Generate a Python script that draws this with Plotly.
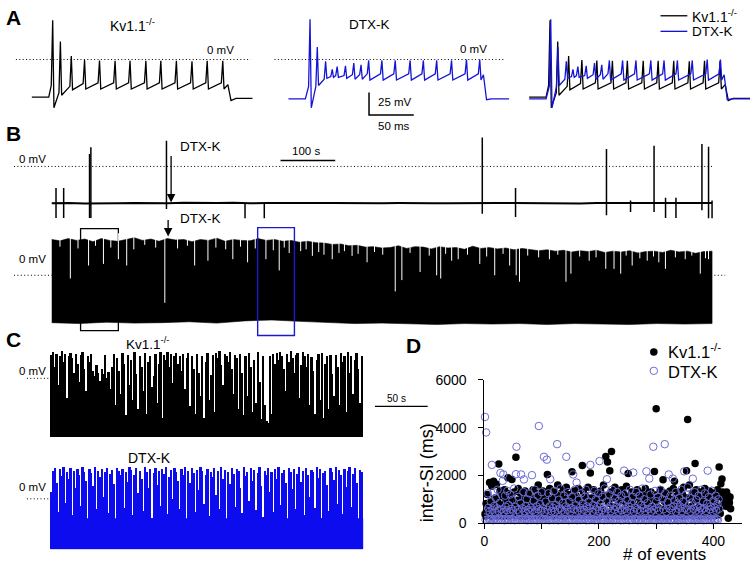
import plotly.graph_objects as go

W, H = 750, 570
FONT = "Arial, 'Liberation Sans', Helvetica, sans-serif"
BLUE = "#1414d8"
CBLUE = "#0c0cee"
DBLUE = "#6b6bd8"

# ---------------- DATA ----------------
# Panel A: current-evoked firing (time ms, voltage mV)
kv_rest, kv_step, kv_off, kv_dip, kv_after = -42.0, [18.9, 219.0], -28.0, -46.0, -43.5
kv_spike_t = [23.3, 31.9, 44.1, 58.9, 75.6, 93.0, 109.7, 127.4, 144.1, 161.5, 178.9, 195.9, 213.3]
kv_spike_peak = [44.0, 20.0, 4.0, -0.5, -1.0, -1.5, -1.5, -1.5, -1.5, -1.5, -2.0, -1.5, -1.5]
kv_spike_thr = [-29.0, -37.0, -30.0, -27.0, -26.0, -26.0, -26.0, -26.0, -26.0, -26.0, -26.0, -26.0, -26.0]
kv_spike_ahp = [-54.0, -40.0, -34.0, -33.0, -33.0, -33.0, -33.0, -33.0, -33.0, -33.0, -33.0, -33.0, -33.0]

dtx_rest, dtx_step, dtx_off, dtx_dip, dtx_after = -44.0, [18.9, 217.8], -17.0, -45.0, -44.0
dtx_spike_t = [24.1, 32.2, 41.5, 48.9, 54.4, 63.7, 73.0, 81.1, 89.6, 104.4, 119.3, 135.9, 150.7, 165.6, 182.2, 198.9, 213.7]
dtx_spike_peak = [45.0, 14.0, -2.0, -11.0, -8.0, -7.0, -4.0, -6.0, -1.0, -1.0, -1.0, -1.0, -1.0, -1.0, -1.0, 0.0, 0.0]
dtx_spike_thr = [-30.0, -30.0, -22.0, -19.0, -18.0, -18.0, -17.0, -17.0, -16.0, -16.0, -16.0, -16.0, -16.0, -16.0, -16.0, -16.0, -16.0]
dtx_spike_ahp = [-54.0, -29.0, -21.0, -20.0, -20.0, -21.0, -22.0, -22.0, -23.0, -23.0, -23.0, -23.0, -23.0, -23.0, -23.0, -23.0, -23.0]
a_t_end = 246.7

# Panel B (top): sparse recording (time s, mV)
b1_len = 1207.0
b1_baseline = [-41.2, -40.8, -41.5, -41.0, -41.3, -40.9, -41.4, -41.1, -40.7, -41.2, -41.0, -40.6, -41.3, -40.9,
               -41.1, -40.5, -41.0, -40.8, -41.2, -40.9, -41.3, -41.0, -40.7, -41.2, -41.1, -40.8, -41.3, -41.0,
               -40.9, -41.2, -40.8, -41.1, -41.4, -40.9, -41.0, -41.2, -40.7, -41.1, -41.3, -40.9, -41.0]
b1_event_t = [7.8, 21.8, 69.1, 71.5, 209.7, 353.3, 388.5, 787.0, 847.8, 1014.0, 1058.0, 1101.0, 1122.0, 1141.0, 1188.5, 1200.6, 1207.0]
b1_event_top = [-24.0, -24.0, 14.0, 21.4, 28.6, -41.0, -41.0, 32.3, -24.0, 19.6, -38.0, 23.0, -35.0, -35.0, 25.0, 22.0, -38.0]
b1_event_bot = [-57.6, -57.6, -57.6, -57.6, -47.5, -58.0, -58.0, -53.0, -56.5, -54.7, -51.0, -51.0, -57.6, -57.6, -49.0, -58.0, -58.0]

# Panel B (bottom): dense recording envelope (time s, mV)
b2_len = 1207.0
b2_top = [40, 38.5, 41, 39, 40.5, 37.5, 41, 39, 38, 40, 42, 39, 40.5, 38, 41, 39.5, 40, 37.5, 40, 39, 41.5, 38, 40,
          39, 38.5, 41, 39, 40, 38,
          39, 37, 38, 36.5, 36, 34.5, 35, 33, 33.5, 31.5, 32, 30.5,
          31, 33, 30, 32, 31.5, 29.5, 32, 30.5, 31, 29, 32.5, 30, 31, 29.5, 30.5, 28.5, 30,
          29, 27.5, 28.5, 27, 28, 26, 27.5, 26.5, 28, 25.5, 27, 26, 27.5, 25, 26.5,
          27, 25.5, 28, 26, 27, 24.5, 26.5, 27]
b2_bottom = [-53, -54, -52.5, -53.5, -53, -52, -53.5, -51, -50, -51.5, -53, -54, -53.5, -54, -55, -54, -54.5, -54,
             -55, -54, -54.5, -55, -54, -54.5, -54]
b2_gap_t = [34.0, 67.3, 94.5, 121.8, 137.0, 206.7, 261.2, 285.5, 331.0, 358.0, 391.5, 415.8, 434.0, 476.4, 497.6,
            512.7, 549.0, 576.4, 627.9, 640.0, 673.3, 703.6, 711.0, 731.0, 743.0, 782.4, 809.7, 837.0, 849.0, 855.0,
            909.7, 940.0, 949.0, 982.4, 1012.7, 1027.8, 1040.0, 1061.0, 1088.5, 1109.7, 1121.8, 1158.0, 1185.5, 1200.5]
b2_gap_depth = [-3.6, 10.9, 12.7, 18.0, 10.9, -30.8, 10.9, 16.3, 18.0, 14.5, 18.0, 5.4, 25.0, 21.7, 23.0, 18.0, 21.7,
                14.5, -18.0, -5.4, 3.6, 0.0, -3.6, 16.3, 18.0, 12.7, 0.0, 10.9, 0.0, -7.2, 18.0, -7.2, 1.8, 16.3,
                7.2, 7.2, 1.8, 10.9, 16.3, 14.5, 7.2, 18.0, 1.8, 18.0]
b2_notch_t = [15, 48, 80, 108, 150, 170, 190, 230, 248, 300, 318, 345, 372, 405, 425, 455, 465, 488, 525, 535, 560,
              590, 605, 655, 690, 720, 760, 795, 825, 870, 890, 925, 965, 995, 1050, 1075, 1100, 1140, 1170, 1195]
b2_notch_depth = [32, 30, 33, 31, 29, 34, 31, 30, 33, 31, 29, 32, 30, 28, 31, 27, 29, 26, 25, 27, 24, 26, 23, 25,
                  22, 24, 23, 21, 24, 22, 20, 23, 21, 20, 22, 19, 21, 20, 22, 19]
b2_box_kv = [52.7, 121.8]
b2_box_dtx = [376.4, 443.6]

# Panel C: per-bin maximum voltage (mV), 296 s split into 180 bins
c_len = 296.0
c_kv_max = [26, 29, 12, 27, -8, 24, 30, 18, 27, -22, 25, 28,
            22, 6, 27, 15, -5, 26, 29, 10, -15, 24, 18, 27,
            8, 2, 14, 6, -3, 10, 4, 26, 0, 7, -12, 12,
            27, -30, 22, 8, -18, 28, 15, -42, 26, -8, 20, -25, 29, 4, -35, 24, 12, -15, 28, -40,
            18, 25, -10, 2, 27, -28, 16, 29, -45,
            26, 20, 29, 12, 27, -6, 24, 28, 16, 25, 8, 27, -12, 22, 28,
            -32, 24, 10, -40, 27, 6, -20, 25, -45, 18, 28, -25, 3, 26, -38,
            28, 22, 30, 14, -8, 27, 25, 18, 29, 10, -18, 26,
            22, -35, 27, 5, -42, 24, -20, 28, 12, -38, 20, -28, 29, -5, -46, 25, -30,
            -48, -50, 24, -40, 27, 15,
            28, 20, 29, 24, 10, -15, 27, 18, 30, 22, 6, 26, 28, -22, 14, 29, 24, 12, 27,
            -30, 23, 8, -40, 20, 27, -25, 28, -45, 15, 24, -35, 26, 4, -20,
            26, 12, -30, 28, 18, 24, -38, 29, 6, 25, -18, 20, 28, 10, -28, 25]
c_kv_floor = -66.0
c_dtx_max = [8, 31, 34, 18, -15, 33, 25, 35, -5, 30, 22, 34, -18, 31, 12, 33, 27, -8, 35, 30,
             20, -25, 33, 29, 14, 35, -12, 31, 24, 33, 2, 30, 34, -16, 28, 32, 16, -30, 34, 31,
             26, 33, -10, 30, 19, 35, 32, -18, 27, 34, 6, 31, 22, -14, 35, 30, 12, 33, -22, 29,
             34, 15, 31, -8, 33, 28, 35, -17, 24, 32, 0, 34, 30, 20, -12, 33, 26, 35, -28, 31,
             18, 34, 29, -15, 32, 10, 35, 31, -6, 27, 33, -19, 30, 24, 34, 4, 31, -11, 35, 22,
             32, -24, 30, 16, 34, 28, -9, 33, 31, 12, -16, 35, 25, 30, -3, 34, 20, 32, -13, 29,
             35, 14, -20, 31, 27, 34, 8, 30, -15, 33, 22, 35, -7, 29, 32, 17, -26, 34, 30, 11,
             33, -12, 28, 35, 19, 31, -18, 34, 26, 2, 32, 30, -10, 35, 23, 33, -22, 29, 31, 15,
             -14, 34, 30, 21, 35, -6, 32, 27, -17, 33, 13, 31, 35, -9, 28, 34, 18, -24, 32, 30]
c_dtx_floor = -56.0
c_dtx_solid = -22.0

# Panel D: inter-spike intervals (ms) per event
kv_isi = [380, 300, 820, 450, 1200, 350, 610, 330, 1700, 420, 900, 290, 1550, 380, 720, 1760, 340, 1050, 310, 480,
          1630, 360, 920, 300, 2480, 410, 1350, 330, 650, 380, 1150, 290, 780, 440, 1400, 350, 980, 310, 560, 1250,
          1900, 370, 620, 300, 850, 420, 1100, 1830, 340, 530, 390, 1300, 310, 700, 2760, 380, 960, 330, 1450, 400,
          560, 300, 1250, 420, 880, 350, 1050, 310, 680, 380, 1350, 290, 940, 410, 520, 340, 1200, 360, 760, 320,
          1080, 390, 620, 300, 1400, 350, 840, 420, 1000, 310, 560, 380, 1250, 1600, 330, 720, 400, 1100, 290, 870,
          360, 1350, 420, 640, 310, 980, 380, 1200, 300, 2040, 450, 760, 340, 1450, 390, 560, 320, 1050, 410, 880,
          300, 1300, 370, 690, 420, 1100, 330, 1600, 390, 540, 310, 950, 440, 1250, 360, 780, 300, 1400, 400, 620,
          1000, 350, 1500, 310, 820, 420, 1200, 380, 560, 330, 1050, 400, 2150, 300, 700, 1350, 360, 900, 420, 1150,
          330, 620, 390, 1450, 310, 860, 410, 1000, 350, 540, 2420, 300, 1300, 380, 720, 440, 1150, 320, 950, 400,
          1500, 360, 680, 310, 2100, 430, 1050, 340, 820, 380, 1400, 300, 560, 410, 1250, 350, 900, 320, 1100, 390,
          640, 300, 1350, 420, 980, 360, 560, 1600, 330, 1150, 410, 2790, 1100, 380, 2560, 300, 840, 440, 2190, 360,
          1300, 3000, 420, 700, 310, 1050, 380, 1500, 340, 600, 400, 1250, 300, 880, 450, 1100, 330, 540, 380, 1400,
          360, 950, 410, 1200, 300, 650, 390, 1550, 340, 800, 2080, 420, 1050, 310, 600, 380, 1300, 350, 900, 430,
          1150, 300, 700, 400, 1100, 340, 1400, 380, 560, 310, 1100, 440, 850, 360, 1250, 320, 620, 410, 1000, 350,
          1450, 390, 760, 300, 1150, 420, 540, 360, 980, 330, 1300, 400, 650, 310, 1100, 380, 2160, 340, 880, 4790,
          420, 1200, 300, 640, 380, 1050, 350, 1400, 410, 560, 330, 1820, 390, 920, 300, 1250, 440, 700, 360, 1100,
          320, 850, 400, 1350, 310, 600, 380, 1000, 340, 1450, 420, 1750, 300, 760, 390, 1150, 350, 540, 410, 1300,
          330, 920, 390, 640, 300, 1200, 420, 1500, 360, 800, 310, 1050, 2200, 380, 4345, 560, 340, 1600, 400, 1100,
          350, 700, 420, 1250, 300, 950, 380, 2500, 330, 1400, 410, 620, 360, 1150, 300, 880, 440, 1300, 340, 540,
          1050, 390, 760, 310, 1450, 420, 600, 350, 1200, 380, 900, 300, 1350, 440, 650, 330, 1100, 400, 800, 360,
          1250, 310, 950, 420, 700, 380, 1400, 340, 1150, 2350, 600, 400, 1650, 1100, 1850, 1300, 800, 1000, 1200, 900,
          1050, 700, 1300, 950, 1150, 200, 1000, 850, 1100, 600]
dtx_isi = [4450, 130, 3800, 520, 150, 1250, 640, 170, 480, 140, 900, 160, 2440, 560, 120, 1300, 720, 180, 450, 1050,
           150, 620, 1400, 130, 500, 170, 850, 2100, 140, 580, 160, 1770, 2040, 470, 120, 1150, 690, 180, 540, 1350,
           140, 760, 160, 450, 1200, 130, 600, 170, 980, 520, 150, 1450, 120, 680, 2050, 3200, 140, 560, 1100, 180,
           470, 130, 830, 2040, 160, 620, 150, 1300, 1830, 500, 140, 720, 170, 1000, 120, 560, 160, 1250, 480, 150,
           650, 130, 2010, 540, 170, 940, 140, 1400, 480, 160, 700, 120, 1150, 580, 4070, 150, 800, 180, 520, 1300,
           140, 620, 160, 2780, 470, 130, 900, 170, 2660, 560, 150, 1250, 120, 700, 1840, 140, 500, 1050, 160, 640,
           130, 1350, 480, 170, 760, 150, 3310, 560, 120, 980, 160, 620, 1450, 140, 520, 180, 850, 130, 1150, 470,
           160, 700, 2780, 140, 560, 1300, 120, 900, 170, 480, 640, 150, 1100, 130, 2040, 580, 160, 1400, 140, 750,
           1700, 120, 520, 170, 980, 150, 640, 130, 1250, 480, 160, 820, 140, 560, 1100, 180, 1400, 120, 700, 500,
           150, 900, 130, 620, 2440, 170, 1150, 140, 480, 760, 160, 1350, 120, 560, 1000, 150, 680, 130, 1250, 500,
           2600, 170, 820, 140, 540, 1100, 160, 640, 120, 1450, 480, 150, 900, 1840, 130, 600, 170, 1200, 140, 720,
           500, 160, 1400, 120, 860, 150, 560, 1050, 130, 680, 170, 1300, 140, 480, 940, 160, 620, 120, 1150, 540,
           150, 780, 130, 2200, 600, 170, 1250, 140, 500, 960, 160, 700, 120, 1400, 560, 150, 840, 130, 1100, 2120,
           480, 170, 650, 140, 1300, 160, 560, 120, 900, 150, 1150, 520, 130, 760, 170, 1450, 140, 620, 1000, 160,
           500, 120, 2170, 150, 840, 130, 600, 1870, 170, 1200, 480, 140, 700, 160, 3200, 560, 120, 1350, 150, 920,
           640, 130, 1100, 170, 520, 140, 1400, 160, 760, 120, 1000, 150, 580, 130, 3310, 1250, 170, 480, 140, 880,
           160, 2040, 620, 120, 1150, 150, 540, 130, 1870, 700, 170, 960, 140, 1300, 480, 160, 820, 120, 600, 1050,
           150, 700, 130, 1400, 500, 170, 900, 140, 2170, 620, 160, 1200, 120, 560, 1500, 150, 760, 130, 1050, 480,
           170, 860, 140, 1860, 600, 160, 1300, 120, 520, 980, 150, 700, 130, 1150, 480, 170, 640, 140, 1400, 560,
           160, 900, 120, 620, 1250, 150, 500, 130, 820, 2200, 170, 1100, 140, 580, 700, 160, 1360, 120, 480, 940,
           150, 650, 130, 1150, 520, 170, 800, 140, 1000, 600]
d_xticks = [0, 200, 400]
d_xminor = [100, 300]
d_yticks = [0, 2000, 4000, 6000]

# ---------------- FIGURE ----------------
fig = go.Figure()

# axis boxes in pixels: (x0, x1), (ytop, ybottom), x range, y range
AX = {
    1: ((8, 250), (5, 115), (-22.2, 246.7), (-67.4, 52.2)),
    2: ((266, 508), (5, 115), (-22.2, 246.7), (-67.4, 52.2)),
    3: ((508, 750), (5, 115), (-22.2, 246.7), (-67.4, 52.2)),
    4: ((5, 740), (125, 222), (-78.18, 1258.18), (-64.1, 41.3)),
    5: ((5, 740), (222, 340), (-78.18, 1258.18), (-70.65, 57.6)),
    6: ((5, 432), (340, 452), (-39.6, 363.2), (-77.2, 44.6)),
    7: ((5, 432), (458, 566), (-39.6, 363.2), (-66.3, 51.1)),
    8: ((483, 742), (382.7, 530), (0, 450), (0, 6000)),
}
lay = {}
for k, (xd, yd, xr, yr) in AX.items():
    xn = "xaxis" if k == 1 else f"xaxis{k}"
    yn = "yaxis" if k == 1 else f"yaxis{k}"
    lay[xn] = dict(domain=[xd[0] / W, xd[1] / W], range=list(xr), visible=False,
                   anchor="y" if k == 1 else f"y{k}", fixedrange=True)
    lay[yn] = dict(domain=[1 - yd[1] / H, 1 - yd[0] / H], range=list(yr), visible=False,
                   anchor="x" if k == 1 else f"x{k}", fixedrange=True)


def ax(k):
    return ("x", "y") if k == 1 else (f"x{k}", f"y{k}")


def line(k, xs, ys, color="black", width=1.0, dash=None, fill=None, fillcolor=None):
    xa, ya = ax(k)
    fig.add_trace(go.Scatter(x=xs, y=ys, xaxis=xa, yaxis=ya, mode="lines", hoverinfo="skip",
                             line=dict(color=color, width=width, dash=dash),
                             fill=fill, fillcolor=fillcolor))


def segs(xs, lo, hi):
    sx, sy = [], []
    for x, a, b in zip(xs, lo, hi):
        sx += [x, x, None]
        sy += [a, b, None]
    return sx, sy


def train(rest, step, thr, t, peak, ahp, off_level, dip, after):
    xs, ys = [0.0, step[0]], [rest, rest]
    for ti, th, pk, ah in zip(t, thr, peak, ahp):
        xs += [ti - 1.6, ti, ti + 1.4]
        ys += [th, pk, ah]
    xs += [step[1], step[1] + 3.5, step[1] + 9, a_t_end]
    ys += [off_level, dip, after, after]
    return xs, ys


kv_x, kv_y = train(kv_rest, kv_step, kv_spike_thr, kv_spike_t, kv_spike_peak, kv_spike_ahp, kv_off, kv_dip, kv_after)
dtx_x, dtx_y = train(dtx_rest, dtx_step, dtx_spike_thr, dtx_spike_t, dtx_spike_peak, dtx_spike_ahp, dtx_off, dtx_dip, dtx_after)

DOT = "1px,2.4px"
# A
line(1, [-17.8, 244.4], [0, 0], width=1, dash=DOT)
line(1, kv_x, kv_y, width=1.3)
line(2, [-15.6, 240.0], [0, 0], width=1, dash=DOT)
line(2, dtx_x, dtx_y, color=BLUE, width=1.3)
line(2, [90, 90, 140], [-37, -62, -62], width=1.5)
line(3, kv_x, kv_y, width=1.3)
line(3, dtx_x, dtx_y, color=BLUE, width=1.3)

# B top
line(4, [-69, b1_len], [0, 0], width=1, dash=DOT)
nb = len(b1_baseline)
line(4, [b1_len * i / (nb - 1) for i in range(nb)], b1_baseline, width=2.0)
ex, ey = segs(b1_event_t, b1_event_bot, b1_event_top)
line(4, ex, ey, width=1.5)
line(4, [418.2, 518.2], [6.5, 6.5], width=1.5)

# B bottom
line(5, [-69, 1231], [0, 0], width=1, dash=DOT)
nt, nbt = len(b2_top), len(b2_bottom)
tx = [b2_len * i / (nt - 1) for i in range(nt)]
bx = [b2_len * i / (nbt - 1) for i in range(nbt)]
line(5, tx + bx[::-1], b2_top + b2_bottom[::-1], width=0.6, fill="toself", fillcolor="black")
gx, gy = segs(b2_gap_t, [47] * len(b2_gap_t), b2_gap_depth)
line(5, gx, gy, color="white", width=1)
nx, ny = segs(b2_notch_t, [47] * len(b2_notch_t), b2_notch_depth)
line(5, nx, ny, color="white", width=1)

# C (Kv1.1-/-)
c_bin = c_len / len(c_kv_max)
cx = [(i + 0.5) * c_bin for i in range(len(c_kv_max))]
line(6, [-22.6, 0], [0, 0], width=1, dash=DOT)
fig.add_trace(go.Bar(x=cx, y=[v - c_kv_floor for v in c_kv_max], base=c_kv_floor, width=c_bin,
                     xaxis="x6", yaxis="y6", marker=dict(color="black", line=dict(width=0)), hoverinfo="skip"))
# C (DTX-K)
cdx = [(i + 0.5) * c_bin for i in range(len(c_dtx_max))]
line(7, [-22.6, 0], [0, 0], width=1, dash=DOT)
fig.add_trace(go.Bar(x=cdx, y=[v - c_dtx_floor for v in c_dtx_max], base=c_dtx_floor, width=c_bin,
                     xaxis="x7", yaxis="y7", marker=dict(color=CBLUE, line=dict(width=0)), hoverinfo="skip"))
line(7, [0, c_len, c_len, 0], [c_dtx_floor, c_dtx_floor, c_dtx_solid, c_dtx_solid], color=CBLUE, width=0.5,
     fill="toself", fillcolor=CBLUE)

# D
fig.add_trace(go.Scatter(x=list(range(1, len(kv_isi) + 1)), y=kv_isi, xaxis="x8", yaxis="y8", mode="markers",
                         marker=dict(size=7.5, color="black", line=dict(width=0)), cliponaxis=False, hoverinfo="skip"))
fig.add_trace(go.Scatter(x=list(range(1, len(dtx_isi) + 1)), y=dtx_isi, xaxis="x8", yaxis="y8", mode="markers",
                         marker=dict(size=7.5, symbol="circle-open", color=DBLUE, line=dict(width=1, color=DBLUE)),
                         cliponaxis=False, hoverinfo="skip"))

lay["xaxis8"].update(visible=True, showline=True, linecolor="black", linewidth=1, ticks="outside", ticklen=5,
                     tickcolor="black", tickvals=d_xticks, showgrid=False, zeroline=False,
                     minor=dict(tickvals=d_xminor, ticks="outside", ticklen=5, tickcolor="black", showgrid=False),
                     tickfont=dict(size=14, family=FONT, color="black"))
lay["yaxis8"].update(visible=True, showline=True, linecolor="black", linewidth=1, ticks="outside", ticklen=5,
                     tickcolor="black", tickvals=d_yticks, showgrid=False, zeroline=False,
                     tickfont=dict(size=14, family=FONT, color="black"), ticklabelstandoff=9)

shapes = []


def pshape(**kw):
    shapes.append(kw)


def pline(x0, y0, x1, y1, color="black", width=1.3):
    pshape(type="line", xref="paper", yref="paper", x0=x0 / W, x1=x1 / W, y0=1 - y0 / H, y1=1 - y1 / H,
           line=dict(color=color, width=width))


# A legend lines
pline(660, 8, 687, 8, "black", 1.3)
pline(660, 24, 687, 24, BLUE, 1.3)
# B boxes
pshape(type="rect", xref="x5", yref="y5", x0=b2_box_kv[0], x1=b2_box_kv[1], y0=-62, y1=52.2,
       line=dict(color="black", width=1.3), layer="below")
pshape(type="rect", xref="x5", yref="y5", x0=b2_box_dtx[0], x1=b2_box_dtx[1], y0=-67.4, y1=53.3,
       line=dict(color="#1a1acc", width=1.4), layer="above")
# C scale bar (50 s)
pshape(type="line", xref="x6", yref="y6", x0=307.5, x1=357.5, y0=-31.5, y1=-31.5, line=dict(color="black", width=1.3))
# D legend markers
r = 3.8
pshape(type="circle", xref="paper", yref="paper", x0=(653.3 - r) / W, x1=(653.3 + r) / W,
       y0=1 - (354 + r) / H, y1=1 - (354 - r) / H, fillcolor="black", line=dict(width=0))
pshape(type="circle", xref="paper", yref="paper", x0=(653.3 - r) / W, x1=(653.3 + r) / W,
       y0=1 - (373.3 + r) / H, y1=1 - (373.3 - r) / H, fillcolor="white", line=dict(width=1, color=DBLUE))

anns = []


def T(text, x, y, size, xanchor="left", bold=False, angle=0):
    anns.append(dict(text=("<b>%s</b>" % text) if bold else text, x=x / W, y=1 - y / H, xref="paper", yref="paper",
                     xanchor=xanchor, yanchor="middle", showarrow=False, textangle=angle,
                     font=dict(size=size, family=FONT, color="black")))


KV = "Kv1.1<sup>-/-</sup>"
T("A", 0, 10, 21, bold=True)
T("B", 0, 129, 21, bold=True)
T("C", 0, 341, 21, bold=True)
T("D", 402, 347, 21, bold=True)
T(KV, 105, 17, 14)
T("0 mV", 202, 43, 11.5)
T("DTX-K", 345, 17, 13.5)
T("0 mV", 456, 42, 11.5)
T("25 mV", 374, 97, 11.5)
T("50 ms", 374, 121, 11.5)
T(KV, 690, 8, 14)
T("DTX-K", 690, 24, 13.5)
T("0 mV", 13, 155, 11.5)
T("DTX-K", 175, 142, 13.5)
T("100 s", 288, 147, 11.5)
T("DTX-K", 175, 217, 13.5)
T("0 mV", 13, 258, 11.5)
T(KV, 121, 345, 13.5)
T("0 mV", 13, 373, 11.5)
T("DTX-K", 123, 463, 14)
T("0 mV", 13, 493, 11.5)
T("50 s", 383, 402, 10)
T(KV, 666, 353, 16.5)
T("DTX-K", 666, 374, 16.5)
T("inter-SI (ms)", 425, 478, 18, xanchor="center", angle=-90)
T("# of events", 664, 562, 17, xanchor="center")

for (x, yh, yt) in [(168, 200, 152), (165, 235, 217)]:
    anns.append(dict(text="", x=x / W, y=1 - yh / H, xref="paper", yref="paper", ax=0, ay=-(yh - yt),
                     showarrow=True, arrowhead=2, arrowsize=1.3, arrowwidth=1.3, arrowcolor="black", standoff=0))

fig.update_layout(width=W, height=H, margin=dict(l=0, r=0, t=0, b=0), paper_bgcolor="white",
                  plot_bgcolor="rgba(0,0,0,0)", showlegend=False, barmode="overlay", bargap=0,
                  shapes=shapes, annotations=anns, font=dict(family=FONT), **lay)

fig.write_html("out.html", config={"displayModeBar": False},
               post_script="document.body.style.margin='0px';")
